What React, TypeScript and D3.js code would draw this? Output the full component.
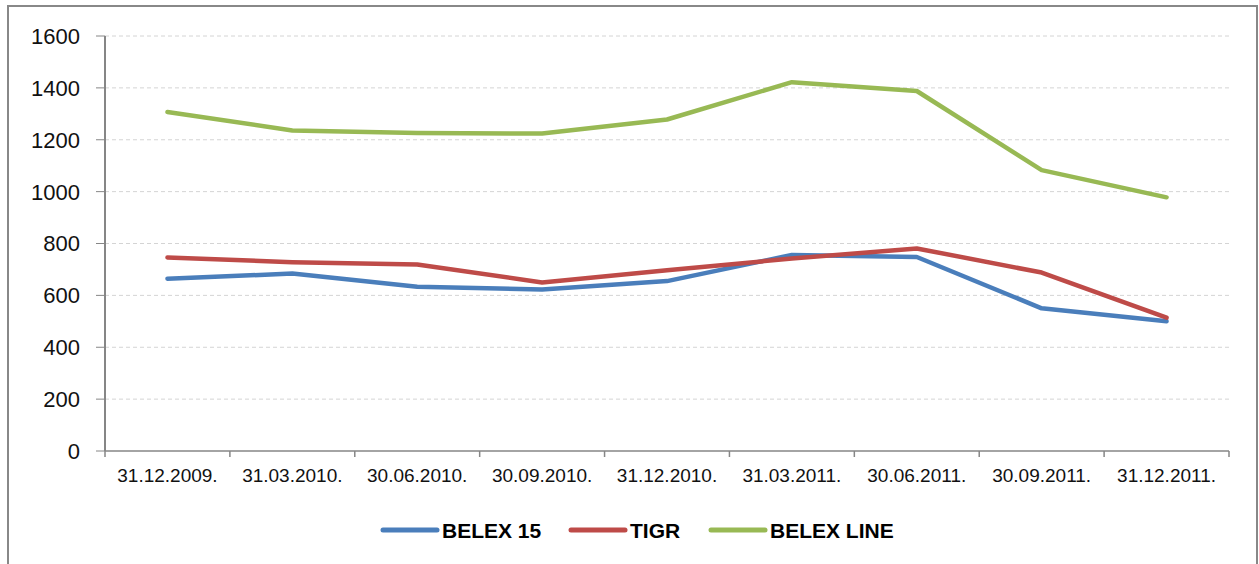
import React from "react";
import * as d3 from "d3";

const categories = [
  "31.12.2009.", "31.03.2010.", "30.06.2010.", "30.09.2010.", "31.12.2010.",
  "31.03.2011.", "30.06.2011.", "30.09.2011.", "31.12.2011.",
];
const belex15 = [664, 684, 633, 623, 655, 756, 748, 550, 500];
const tigr = [746, 728, 719, 650, 697, 742, 781, 688, 514];
const belexLine = [1307, 1236, 1226, 1224, 1278, 1422, 1388, 1083, 978];
const yTicks = [0, 200, 400, 600, 800, 1000, 1200, 1400, 1600];

const series = [
  { name: "BELEX 15", values: belex15, color: "#4A7EBB" },
  { name: "TIGR", values: tigr, color: "#BE4B48" },
  { name: "BELEX LINE", values: belexLine, color: "#98B954" },
];

const W = 1259, H = 564;
const L = 105, R = 1229, T = 36, B = 451;

export default function App() {
  const x = d3.scaleBand<string>().domain(categories).range([L, R]).padding(0);
  const y = d3.scaleLinear().domain([0, 1600]).range([B, T]);
  const line = d3.line<number>()
    .x((_, i) => (x(categories[i]) as number) + x.bandwidth() / 2)
    .y((v) => y(v));
  const tickXs = [...categories.map((c) => x(c) as number), R];
  const legendItems = [
    { s: series[0], lx: 383 },
    { s: series[1], lx: 571 },
    { s: series[2], lx: 711 },
  ];
  return (
    <svg width={W} height={H} style={{ position: "absolute", left: 0, top: 0 }}
      fontFamily="'Liberation Sans', Arial, sans-serif">
      <rect x={0} y={0} width={W} height={H} fill="#fff" />
      <rect x={8} y={6} width={1249} height={600} fill="none" stroke="#888" strokeWidth={2} />
      {yTicks.map((t) => (
        <g key={t}>
          {t > 0 && (
            <line x1={L} x2={R} y1={y(t)} y2={y(t)} stroke="#d4d4d4" strokeWidth={1} strokeDasharray="4,3" />
          )}
          <line x1={96} x2={L} y1={y(t)} y2={y(t)} stroke="#868686" strokeWidth={1} />
          <text x={80} y={y(t)} dy="0.36em" textAnchor="end" fontSize={22} fill="#111">{t}</text>
        </g>
      ))}
      <line x1={L} x2={L} y1={T} y2={B} stroke="#868686" strokeWidth={2} />
      <line x1={L} x2={R} y1={B} y2={B} stroke="#868686" strokeWidth={1.5} />
      {tickXs.map((tx, i) => (
        <line key={i} x1={tx} x2={tx} y1={B} y2={B + 6} stroke="#868686" strokeWidth={1.5} />
      ))}
      {categories.map((c) => (
        <text key={c} x={(x(c) as number) + x.bandwidth() / 2} y={482} textAnchor="middle" fontSize={19} fill="#111">{c}</text>
      ))}
      {series.map((s) => (
        <path key={s.name} d={line(s.values) || ""} fill="none" stroke={s.color} strokeWidth={4.5}
          strokeLinejoin="round" strokeLinecap="round" />
      ))}
      {legendItems.map(({ s, lx }) => (
        <g key={s.name}>
          <line x1={lx} x2={lx + 54} y1={530} y2={530} stroke={s.color} strokeWidth={5} strokeLinecap="round" />
          <text x={lx + 59} y={530} dy="0.36em" fontSize={21} fontWeight="bold" fill="#000">{s.name}</text>
        </g>
      ))}
    </svg>
  );
}
